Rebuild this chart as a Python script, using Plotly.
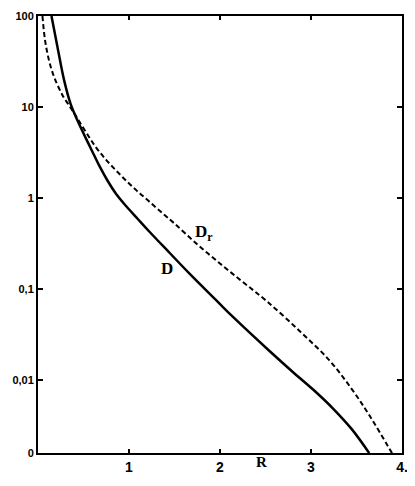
import plotly.graph_objects as go

# values (R, D on log scale)
r_d = [0.148, 0.214, 0.288, 0.36, 0.453, 0.544, 0.61, 0.676, 0.76, 0.859,
       0.97, 1.097, 1.225, 1.445, 1.665, 1.976, 2.137, 2.544, 2.8, 3.02,
       3.25, 3.45, 3.64]
d_vals = [100, 45.7, 19.5, 10.7, 6.46, 4.17, 3.05, 2.24, 1.58, 1.109,
          0.813, 0.589, 0.427, 0.251, 0.148, 0.0724, 0.0501, 0.0209, 0.0123,
          0.00794, 0.00479, 0.00288, 0.00158]

r_dr = [0.049, 0.086, 0.159, 0.269, 0.36, 0.43, 0.53, 0.635, 0.749, 0.86,
        0.969, 1.088, 1.207, 1.35, 1.5, 1.742, 2.0, 2.25, 2.511, 2.874,
        3.2, 3.45, 3.65, 3.89]
dr_vals = [100, 47.9, 24.0, 13.5, 9.77, 7.59, 5.25, 3.63, 2.63, 2.00,
           1.55, 1.20, 0.944, 0.708, 0.525, 0.316, 0.191, 0.120, 0.0741,
           0.0347, 0.0166, 0.00794, 0.00398, 0.00158]

x_ticks = [1, 2, 3, 4]
x_labels = ["1", "2", "3", "4."]
y_ticks = [100, 10, 1, 0.1, 0.01, 0.001585]
y_labels = ["100", "10", "1", "0,1", "0,01", "0"]

fig = go.Figure()
fig.add_trace(go.Scatter(x=r_dr, y=dr_vals, mode="lines", name="Dr",
                         line=dict(color="black", width=2, dash="5px,3px",
                                   shape="spline", smoothing=1)))
fig.add_trace(go.Scatter(x=r_d, y=d_vals, mode="lines", name="D",
                         line=dict(color="black", width=2.5,
                                   shape="spline", smoothing=1)))

# page body has an 8px margin, so the figure is a bit smaller than the window
fig.update_layout(
    width=407, height=478,
    margin=dict(l=30, r=13, t=8, b=33),
    paper_bgcolor="white", plot_bgcolor="white",
    showlegend=False,
    font=dict(family="Liberation Sans", color="black"),
    xaxis=dict(range=[0, 4], tickvals=x_ticks, ticktext=x_labels,
               ticks="inside", ticklen=4, tickwidth=1.5, tickcolor="black",
               showline=True, linewidth=2, linecolor="black", mirror="ticks",
               showgrid=False, zeroline=False, automargin=False,
               tickfont=dict(size=14, family="Liberation Sans", weight="bold")),
    yaxis=dict(type="log", range=[-2.8, 2], tickvals=y_ticks, ticktext=y_labels,
               ticks="inside", ticklen=5, tickwidth=1.5, tickcolor="black",
               showline=True, linewidth=2, linecolor="black", mirror="ticks",
               showgrid=False, zeroline=False, automargin=False,
               tickfont=dict(size=11, family="Liberation Sans", weight="bold")),
)

serif = dict(family="Liberation Serif", size=17, color="black", weight="bold")
fig.add_annotation(x=0.354, y=0.423, xref="paper", yref="paper", text="D",
                   showarrow=False, font=serif)
fig.add_annotation(x=0.455, y=0.503, xref="paper", yref="paper",
                   text="D<sub>r</sub>", showarrow=False, font=serif)
fig.add_annotation(x=0.615, y=-0.0435, xref="paper", yref="paper", text="R",
                   showarrow=False, font=dict(family="Liberation Serif", size=15,
                                              color="black", weight="bold"))

fig.write_html("out.html")
